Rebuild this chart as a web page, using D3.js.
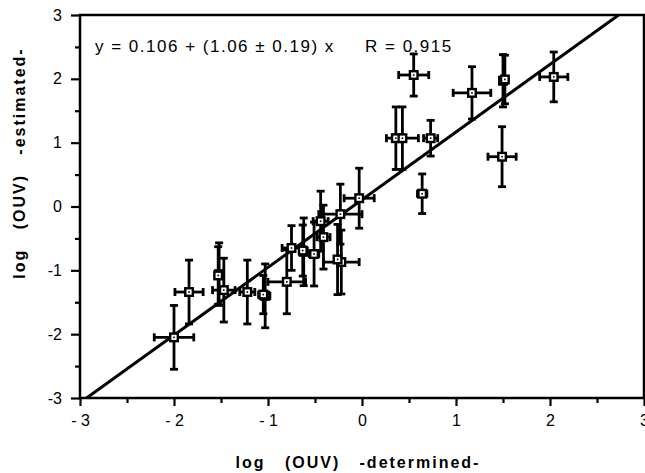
<!DOCTYPE html>
<html>
<head>
<meta charset="utf-8">
<script src="https://cdn.jsdelivr.net/npm/d3@7"></script>
<style>
  body { margin: 0; background: #fff; }
  text { font-family: "Liberation Sans", Arial, sans-serif; fill: #000; }
</style>
</head>
<body>
<div id="chart-container"></div>
<script>
// Measured points: log(OUV) determined (x) vs estimated (y), with error bars
const xVals = [-2.00, -1.84, -1.52, -1.53, -1.47, -1.22, -1.03, -1.05, -0.80, -0.75,
               -0.62, -0.63, -0.51, -0.41, -0.44, -0.23, -0.03, -0.22, -0.26,
               0.55, 1.17, 1.50, 1.52, 2.04, 0.36, 0.43, 0.73, 1.49, 0.64];
const yVals = [-2.05, -1.34, -1.06, -1.08, -1.31, -1.34, -1.40, -1.38, -1.18, -0.65,
               -0.71, -0.69, -0.745, -0.48, -0.23, -0.12, 0.13, -0.87, -0.83,
               2.06, 1.78, 1.97, 1.99, 2.03, 1.07, 1.07, 1.07, 0.78, 0.20];
const xErr = [0.21, 0.15, 0.00, 0.00, 0.12, 0.08, 0.05, 0.05, 0.20, 0.10,
              0.00, 0.00, 0.05, 0.07, 0.08, 0.23, 0.16, 0.19, 0.00,
              0.16, 0.20, 0.00, 0.00, 0.15, 0.00, 0.17, 0.075, 0.15, 0.05];
const yErr = [0.50, 0.50, 0.49, 0.45, 0.50, 0.50, 0.50, 0.30, 0.50, 0.35,
              0.53, 0.40, 0.50, 0.50, 0.47, 0.47, 0.47, 0.50, 0.55,
              0.33, 0.41, 0.41, 0.38, 0.39, 0.49, 0.49, 0.28, 0.47, 0.31];

// Fit: y = a + b x
const fitA = 0.106, fitB = 1.06;
const fitText = "y = 0.106 + (1.06 \u00b1 0.19) x";
const fitR = "R = 0.915";

const xMajor = [-3, -2, -1, 0, 1, 2, 3];
const xMajorLabels = ["- 3", "- 2", "- 1", "0", "1", "2", "3"];
const yMajor = [3, 2, 1, 0, -1, -2, -3];
const yMajorLabels = ["3", "2", "1", "0", "-1", "-2", "-3"];
const minorTicks = [-2.5, -1.5, -0.5, 0.5, 1.5, 2.5];

const width = 645, height = 473;
const plotLeft = 80, plotRight = 644, plotTop = 15, plotBottom = 398;

const svg = d3.select("#chart-container")
  .append("svg")
  .attr("width", width)
  .attr("height", height);

const x = d3.scaleLinear().domain([-3, 3]).range([plotLeft, plotRight]);
const y = d3.scaleLinear().domain([-3, 3]).range([plotBottom, plotTop]);

svg.append("clipPath").attr("id", "plot-clip")
  .append("rect")
  .attr("x", plotLeft).attr("y", plotTop)
  .attr("width", plotRight - plotLeft).attr("height", plotBottom - plotTop);

// Axes: major ticks long, minor ticks short
const xAxis = svg.append("g")
  .attr("transform", `translate(0,${plotBottom})`)
  .call(d3.axisBottom(x).tickValues(xMajor).tickSize(8).tickPadding(9)
    .tickFormat((d, i) => xMajorLabels[i]));
xAxis.append("g").call(d3.axisBottom(x).tickValues(minorTicks).tickSize(5).tickFormat(""));

const yAxis = svg.append("g")
  .attr("transform", `translate(${plotLeft},0)`)
  .call(d3.axisLeft(y).tickValues(yMajor).tickSize(9).tickPadding(9)
    .tickFormat((d, i) => yMajorLabels[i]));
yAxis.append("g").call(d3.axisLeft(y).tickValues(minorTicks).tickSize(5).tickFormat(""));

svg.selectAll(".domain").remove();
svg.selectAll(".tick line").attr("stroke", "#000").attr("stroke-width", 2.2);
svg.selectAll(".tick text")
  .attr("font-size", "16px")
  .style("font-family", "'Liberation Sans', Arial, sans-serif")
  .style("white-space", "pre");

// Frame
svg.append("rect")
  .attr("x", plotLeft).attr("y", plotTop)
  .attr("width", plotRight - plotLeft).attr("height", plotBottom - plotTop)
  .attr("fill", "none")
  .attr("stroke", "#000")
  .attr("stroke-width", 2.5);

// Regression line
const plot = svg.append("g").attr("clip-path", "url(#plot-clip)");
plot.append("line")
  .attr("x1", x(-3)).attr("y1", y(fitA + fitB * -3))
  .attr("x2", x(3)).attr("y2", y(fitA + fitB * 3))
  .attr("stroke", "#000")
  .attr("stroke-width", 3);

// Error bars
const pts = xVals.map((v, i) => ({ x: v, y: yVals[i], ex: xErr[i], ey: yErr[i] }));
const cap = 4;
const bars = plot.append("g")
  .attr("stroke", "#000")
  .attr("stroke-width", 2.8);

pts.forEach(p => {
  const cx = x(p.x), cy = y(p.y);
  if (p.ey > 0) {
    const y1 = y(p.y + p.ey), y2 = y(p.y - p.ey);
    bars.append("line").attr("x1", cx).attr("x2", cx).attr("y1", y1).attr("y2", y2);
    bars.append("line").attr("x1", cx - cap).attr("x2", cx + cap).attr("y1", y1).attr("y2", y1);
    bars.append("line").attr("x1", cx - cap).attr("x2", cx + cap).attr("y1", y2).attr("y2", y2);
  }
  if (p.ex > 0) {
    const x1 = x(p.x - p.ex), x2 = x(p.x + p.ex);
    bars.append("line").attr("x1", x1).attr("x2", x2).attr("y1", cy).attr("y2", cy);
    bars.append("line").attr("x1", x1).attr("x2", x1).attr("y1", cy - cap).attr("y2", cy + cap);
    bars.append("line").attr("x1", x2).attr("x2", x2).attr("y1", cy - cap).attr("y2", cy + cap);
  }
});

// Square markers
const marks = plot.selectAll(".mark")
  .data(pts)
  .enter()
  .append("g")
  .attr("class", "mark")
  .attr("transform", d => `translate(${x(d.x)},${y(d.y)})`);
marks.append("rect").attr("x", -5).attr("y", -5).attr("width", 10).attr("height", 10).attr("fill", "#000");
marks.append("rect").attr("x", -2.6).attr("y", -2.6).attr("width", 5.2).attr("height", 5.2).attr("fill", "#fff");
marks.append("rect").attr("x", -0.8).attr("y", -0.8).attr("width", 1.6).attr("height", 1.6).attr("fill", "#000");

// Fit equation
svg.append("text")
  .attr("x", 95)
  .attr("y", 52)
  .attr("font-size", "17px")
  .attr("letter-spacing", "1.5px")
  .style("white-space", "pre")
  .text(fitText);
svg.append("text")
  .attr("x", 365)
  .attr("y", 52)
  .attr("font-size", "17px")
  .attr("letter-spacing", "1.5px")
  .style("white-space", "pre")
  .text(fitR);

// Axis titles
svg.append("text")
  .attr("x", 358)
  .attr("y", 468)
  .attr("text-anchor", "middle")
  .attr("font-size", "16px")
  .attr("font-weight", "bold")
  .attr("letter-spacing", "2px")
  .style("white-space", "pre")
  .text("log   (OUV)   -determined-");

svg.append("text")
  .attr("transform", "translate(25,163) rotate(-90)")
  .attr("text-anchor", "middle")
  .attr("font-size", "16px")
  .attr("font-weight", "bold")
  .attr("letter-spacing", "2px")
  .style("white-space", "pre")
  .text("log   (OUV)   -estimated-");
</script>
</body>
</html>
